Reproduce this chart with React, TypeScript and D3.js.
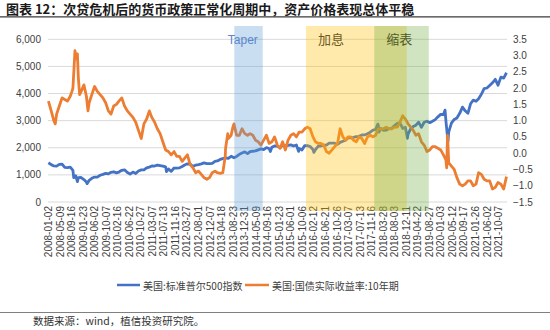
import React from "react";
import * as d3 from "d3";

const W = 550;
const H = 330;

const xLabels = [
  "2008-01-02","2008-05-09","2008-09-16","2009-01-23","2009-06-02","2009-10-07","2010-02-16","2010-06-22",
  "2010-10-27","2011-03-07","2011-07-13","2011-11-16","2012-03-27","2012-08-01","2012-12-07","2013-04-18",
  "2013-08-23","2013-12-31","2014-05-09","2014-09-16","2015-01-23","2015-06-01","2015-10-06","2016-02-12",
  "2016-06-21","2016-10-26","2017-03-07","2017-07-13","2017-11-16","2018-03-28","2018-08-03","2018-12-11",
  "2019-04-22","2019-08-27","2020-01-03","2020-05-12","2020-09-17","2021-01-26","2021-06-02","2021-10-07",
];
const xEnd = "2021-12-31";

const leftTicks = [0, 1000, 2000, 3000, 4000, 5000, 6000];
const rightTicks = [-1.5, -1.0, -0.5, 0, 0.5, 1.0, 1.5, 2.0, 2.5, 3.0, 3.5];

// S&P 500 (left axis)
const spx: [string, number][] = [
  ["2008-01",1447],["2008-02",1378],["2008-03",1331],["2008-04",1323],["2008-05",1386],["2008-06",1400],["2008-07",1280],["2008-08",1267],["2008-09",1283],["2008-10",1166],["2008-10-10",899],["2008-11",969],["2008-11-20",752],["2008-12",896],
  ["2009-01",903],["2009-02",826],["2009-03",735],["2009-03-09",677],["2009-04",798],["2009-05",873],["2009-06",919],["2009-07",919],["2009-08",987],["2009-09",1021],["2009-10",1057],["2009-11",1036],["2009-12",1096],
  ["2010-01",1115],["2010-02",1074],["2010-03",1104],["2010-04",1169],["2010-05",1187],["2010-06",1089],["2010-07",1031],["2010-08",1102],["2010-09",1049],["2010-10",1141],["2010-11",1183],["2010-12",1181],
  ["2011-01",1258],["2011-02",1286],["2011-03",1327],["2011-04",1326],["2011-05",1364],["2011-06",1345],["2011-07",1321],["2011-08",1292],["2011-08-10",1120],["2011-09",1219],["2011-10",1131],["2011-11",1253],["2011-12",1247],
  ["2012-01",1258],["2012-02",1312],["2012-03",1366],["2012-04",1408],["2012-05",1398],["2012-06",1310],["2012-07",1362],["2012-08",1379],["2012-09",1407],["2012-10",1441],["2012-11",1412],["2012-12",1416],
  ["2013-01",1426],["2013-02",1498],["2013-03",1515],["2013-04",1569],["2013-05",1598],["2013-06",1631],["2013-07",1606],["2013-08",1686],["2013-09",1633],["2013-10",1682],["2013-11",1757],["2013-12",1806],
  ["2014-01",1848],["2014-02",1783],["2014-03",1859],["2014-04",1872],["2014-05",1884],["2014-06",1924],["2014-07",1960],["2014-08",1931],["2014-09",2003],["2014-10",1972],["2014-10-15",1862],["2014-11",2018],["2014-12",2068],
  ["2015-01",2059],["2015-02",1995],["2015-03",2105],["2015-04",2068],["2015-05",2086],["2015-06",2107],["2015-07",2063],["2015-08",2104],["2015-08-25",1868],["2015-09",1972],["2015-10",1920],["2015-11",2079],["2015-12",2080],
  ["2016-01",2044],["2016-02",1940],["2016-02-11",1829],["2016-03",1932],["2016-04",2060],["2016-05",2065],["2016-06",2097],["2016-07",2099],["2016-08",2174],["2016-09",2171],["2016-10",2168],["2016-11",2126],["2016-12",2199],
  ["2017-01",2239],["2017-02",2279],["2017-03",2364],["2017-04",2363],["2017-05",2384],["2017-06",2412],["2017-07",2423],["2017-08",2470],["2017-09",2472],["2017-10",2519],["2017-11",2575],["2017-12",2648],
  ["2018-01",2674],["2018-01-26",2872],["2018-02",2824],["2018-02-08",2581],["2018-03",2714],["2018-04",2641],["2018-05",2648],["2018-06",2705],["2018-07",2718],["2018-08",2816],["2018-09",2902],["2018-10",2914],["2018-11",2712],["2018-12",2760],["2018-12-24",2351],
  ["2019-01",2507],["2019-02",2704],["2019-03",2784],["2019-04",2834],["2019-05",2946],["2019-06",2752],["2019-07",2942],["2019-08",2980],["2019-09",2926],["2019-10",2977],["2019-11",3038],["2019-12",3141],
  ["2020-01",3231],["2020-02",3226],["2020-02-19",3386],["2020-03",2954],["2020-03-23",2237],["2020-04",2585],["2020-05",2912],["2020-06",3044],["2020-07",3100],["2020-08",3271],["2020-09",3500],["2020-10",3363],["2020-11",3270],["2020-12",3622],
  ["2021-01",3756],["2021-02",3714],["2021-03",3811],["2021-04",3973],["2021-05",4181],["2021-06",4204],["2021-07",4298],["2021-08",4395],["2021-09",4523],["2021-10",4308],["2021-11",4605],["2021-12",4567],["2021-12-31",4766],
];

// US 10Y real yield (right axis)
const tips: [string, number][] = [
  ["2008-01",1.6],["2008-02",1.3],["2008-03",1.0],["2008-03-17",0.9],["2008-04",1.2],["2008-05",1.45],["2008-06",1.7],["2008-07",1.65],["2008-08",1.6],["2008-09",1.75],["2008-09-20",1.9],["2008-10",2.0],["2008-10-15",2.7],["2008-10-24",3.15],["2008-11-05",2.9],["2008-11-20",3.05],["2008-12",2.3],["2008-12-15",1.8],
  ["2009-01",1.9],["2009-02",2.1],["2009-03",1.75],["2009-03-19",1.3],["2009-04",1.55],["2009-05",1.8],["2009-06",2.05],["2009-07",1.9],["2009-08",1.8],["2009-09",1.7],["2009-10",1.55],["2009-11",1.3],["2009-12",1.2],
  ["2010-01",1.45],["2010-02",1.5],["2010-03",1.6],["2010-04",1.7],["2010-05",1.45],["2010-06",1.3],["2010-07",1.2],["2010-08",1.1],["2010-09",0.95],["2010-10",0.7],["2010-11",0.45],["2010-12",0.9],
  ["2011-01",1.05],["2011-02",1.3],["2011-03",1.1],["2011-04",0.95],["2011-05",0.75],["2011-06",0.6],["2011-07",0.35],["2011-08",0.1],["2011-09",0.05],["2011-10",-0.05],["2011-11",0.05],["2011-12",-0.1],
  ["2012-01",-0.1],["2012-02",-0.25],["2012-03",-0.15],["2012-04",-0.05],["2012-05",-0.35],["2012-06",-0.45],["2012-07",-0.6],["2012-08",-0.55],["2012-09",-0.65],["2012-10",-0.75],["2012-11",-0.8],["2012-12",-0.75],
  ["2013-01",-0.6],["2013-02",-0.55],["2013-03",-0.6],["2013-04",-0.62],["2013-05",-0.6],["2013-05-28",-0.1],["2013-06",0.15],["2013-06-25",0.6],["2013-07",0.45],["2013-08",0.55],["2013-08-20",0.8],["2013-09",0.9],["2013-10",0.55],["2013-11",0.55],["2013-12",0.75],
  ["2014-01",0.6],["2014-02",0.55],["2014-03",0.6],["2014-04",0.55],["2014-05",0.4],["2014-06",0.35],["2014-07",0.25],["2014-08",0.4],["2014-09",0.55],["2014-10",0.3],["2014-11",0.35],["2014-12",0.5],
  ["2015-01",0.25],["2015-02",0.15],["2015-03",0.35],["2015-04",0.1],["2015-05",0.4],["2015-06",0.55],["2015-07",0.6],["2015-08",0.5],["2015-09",0.65],["2015-10",0.65],["2015-11",0.75],["2015-12",0.8],
  ["2016-01",0.75],["2016-02",0.5],["2016-03",0.35],["2016-04",0.3],["2016-05",0.3],["2016-06",0.25],["2016-07",0.05],["2016-08",0.0],["2016-09",0.1],["2016-10",0.2],["2016-11",0.3],["2016-12",0.75],
  ["2017-01",0.5],["2017-02",0.4],["2017-03",0.5],["2017-04",0.5],["2017-05",0.4],["2017-06",0.35],["2017-07",0.5],["2017-08",0.45],["2017-09",0.3],["2017-10",0.5],["2017-11",0.55],["2017-12",0.5],
  ["2018-01",0.55],["2018-02",0.75],["2018-03",0.75],["2018-04",0.75],["2018-05",0.8],["2018-06",0.75],["2018-07",0.75],["2018-08",0.8],["2018-09",0.8],["2018-10",0.95],["2018-11",1.15],["2018-12",1.05],
  ["2019-01",0.9],["2019-02",0.8],["2019-03",0.7],["2019-04",0.55],["2019-05",0.6],["2019-06",0.35],["2019-07",0.25],["2019-08",0.05],["2019-09",0.1],["2019-10",0.2],["2019-11",0.2],["2019-12",0.15],
  ["2020-01",0.1],["2020-02",-0.05],["2020-02-28",-0.2],["2020-03-09",-0.45],["2020-03-18",0.55],["2020-04",-0.3],["2020-05",-0.4],["2020-06",-0.5],["2020-07",-0.75],["2020-08",-0.95],["2020-09",-1.0],["2020-10",-0.95],["2020-11",-0.85],["2020-12",-0.85],
  ["2021-01",-1.0],["2021-02",-0.95],["2021-03",-0.6],["2021-04",-0.65],["2021-05",-0.8],["2021-06",-0.85],["2021-07",-0.85],["2021-08",-1.1],["2021-09",-1.05],["2021-10",-0.9],["2021-11",-0.95],["2021-12",-1.1],["2021-12-31",-0.72],
];

const bandNames = ["Taper", "加息", "缩表"];
const bandStarts = ["2013-09-05", "2015-11-15", "2017-12-16"];
const bandEnds = ["2014-07-21", "2018-12-16", "2019-08-21"];
const bandFills = ["#5B9BD5", "#FFC000", "#70AD47"];
const bandTextColors = ["#5A86CE", "#6E5A1E", "#4F5B2A"];

const seriesNames = ["美国:标准普尔500指数", "美国:国债实际收益率:10年期"];
const seriesColors = ["#4472C4", "#ED7D31"];

const title = "图表 12：次贷危机后的货币政策正常化周期中，资产价格表现总体平稳";
const source = "数据来源：wind，植信投资研究院。";

const pDay = d3.timeParse("%Y-%m-%d");
const pMon = d3.timeParse("%Y-%m");
const parse = (s: string) => (s.length > 7 ? pDay(s) : pMon(s)) as Date;

const latin = "'Liberation Sans', Arial, sans-serif";
const cjk = "'Noto Sans CJK SC', 'Noto Sans', sans-serif";

export default function App() {
  const plotL = 48;
  const plotR = 507;
  const yTop = 39.3;
  const yBot = 202;

  const labelDates = xLabels.map(parse);
  const x = d3
    .scaleTime()
    .domain([...labelDates, parse(xEnd)])
    .range([...labelDates.map((_, i) => 48.5 + i * 11.54), 506.5]);
  const yL = d3.scaleLinear().domain([0, 6000]).range([yBot, yTop]);
  const yR = d3.scaleLinear().domain([-1.5, 3.5]).range([yBot, yTop]);

  const sortData = (d: [string, number][]) =>
    d.map(([s, v]) => ({ t: parse(s), v })).sort((a, b) => +a.t - +b.t);
  const spxD = sortData(spx);
  const tipsD = sortData(tips);

  const lineL = d3.line<{ t: Date; v: number }>().x((d) => x(d.t)).y((d) => yL(d.v));
  const lineR = d3.line<{ t: Date; v: number }>().x((d) => x(d.t)).y((d) => yR(d.v));

  const fmt = d3.format(",");
  const fmtR = (v: number) => (v < 0 ? "\u2212" : "") + Math.abs(v).toFixed(1);

  return (
    <svg
      width={W}
      height={H}
      style={{ position: "fixed", left: 0, top: 0, background: "#fff" }}
    >
      <rect width={W} height={H} fill="#fff" />
      {/* title */}
      <text x={6} y={14} fontFamily={cjk} fontWeight={700} fontSize={13} fill="#1a1a1a">
        {title}
      </text>
      <line x1={0} x2={W} y1={16.8} y2={16.8} stroke="#3a3a3a" strokeWidth={1.2} />

      {/* gridlines */}
      {leftTicks.map((t) => (
        <line key={t} x1={plotL} x2={plotR} y1={yL(t)} y2={yL(t)} stroke="#D9D9D9" strokeWidth={1} />
      ))}

      {/* left tick labels */}
      {leftTicks.map((t) => (
        <text key={t} x={41} y={yL(t)} textAnchor="end" dominantBaseline="central" fontFamily={latin} fontSize={10} fill="#404040">
          {fmt(t)}
        </text>
      ))}
      {/* right tick labels */}
      {rightTicks.map((t) => (
        <text key={t} x={513} y={yR(t)} textAnchor="start" dominantBaseline="central" fontFamily={latin} fontSize={10} fill="#404040">
          {fmtR(t)}
        </text>
      ))}
      {/* x labels */}
      {labelDates.map((d, i) => (
        <text
          key={i}
          transform={`translate(${x(d)},${206}) rotate(-90)`}
          textAnchor="end"
          dominantBaseline="central"
          fontFamily={latin}
          fontSize={10}
          fill="#404040"
        >
          {xLabels[i]}
        </text>
      ))}

      {/* lines */}
      <path d={lineL(spxD) || ""} fill="none" stroke={seriesColors[0]} strokeWidth={2.8} strokeLinejoin="round" />
      <path d={lineR(tipsD) || ""} fill="none" stroke={seriesColors[1]} strokeWidth={2.8} strokeLinejoin="round" />

      {/* bands */}
      {bandNames.map((n, i) => (
        <rect
          key={n}
          x={x(parse(bandStarts[i]))}
          y={26}
          width={x(parse(bandEnds[i])) - x(parse(bandStarts[i]))}
          height={185}
          fill={bandFills[i]}
          fillOpacity={0.33}
        />
      ))}
      {bandNames.map((n, i) => (
        <text
          key={n}
          x={x(parse(bandStarts[i])) + (i === 0 ? -6.5 : 12)}
          y={43.5}
          fontFamily={i === 0 ? latin : cjk}
          fontSize={i === 0 ? 12 : 13}
          fill={bandTextColors[i]}
        >
          {n}
        </text>
      ))}

      {/* legend */}
      <line x1={117} x2={140} y1={285} y2={285} stroke={seriesColors[0]} strokeWidth={2.5} />
      <text x={143} y={285} dominantBaseline="central" fontFamily={cjk} fontSize={10} fill="#404040">
        {seriesNames[0]}
      </text>
      <line x1={245} x2={269} y1={285} y2={285} stroke={seriesColors[1]} strokeWidth={2.5} />
      <text x={272} y={285} dominantBaseline="central" fontFamily={cjk} fontSize={10} fill="#404040">
        {seriesNames[1]}
      </text>

      {/* footer */}
      <line x1={0} x2={W} y1={312.5} y2={312.5} stroke="#808080" strokeWidth={1} />
      <text x={33} y={325} fontFamily={cjk} fontSize={10.5} fill="#333">
        {source}
      </text>
    </svg>
  );
}
